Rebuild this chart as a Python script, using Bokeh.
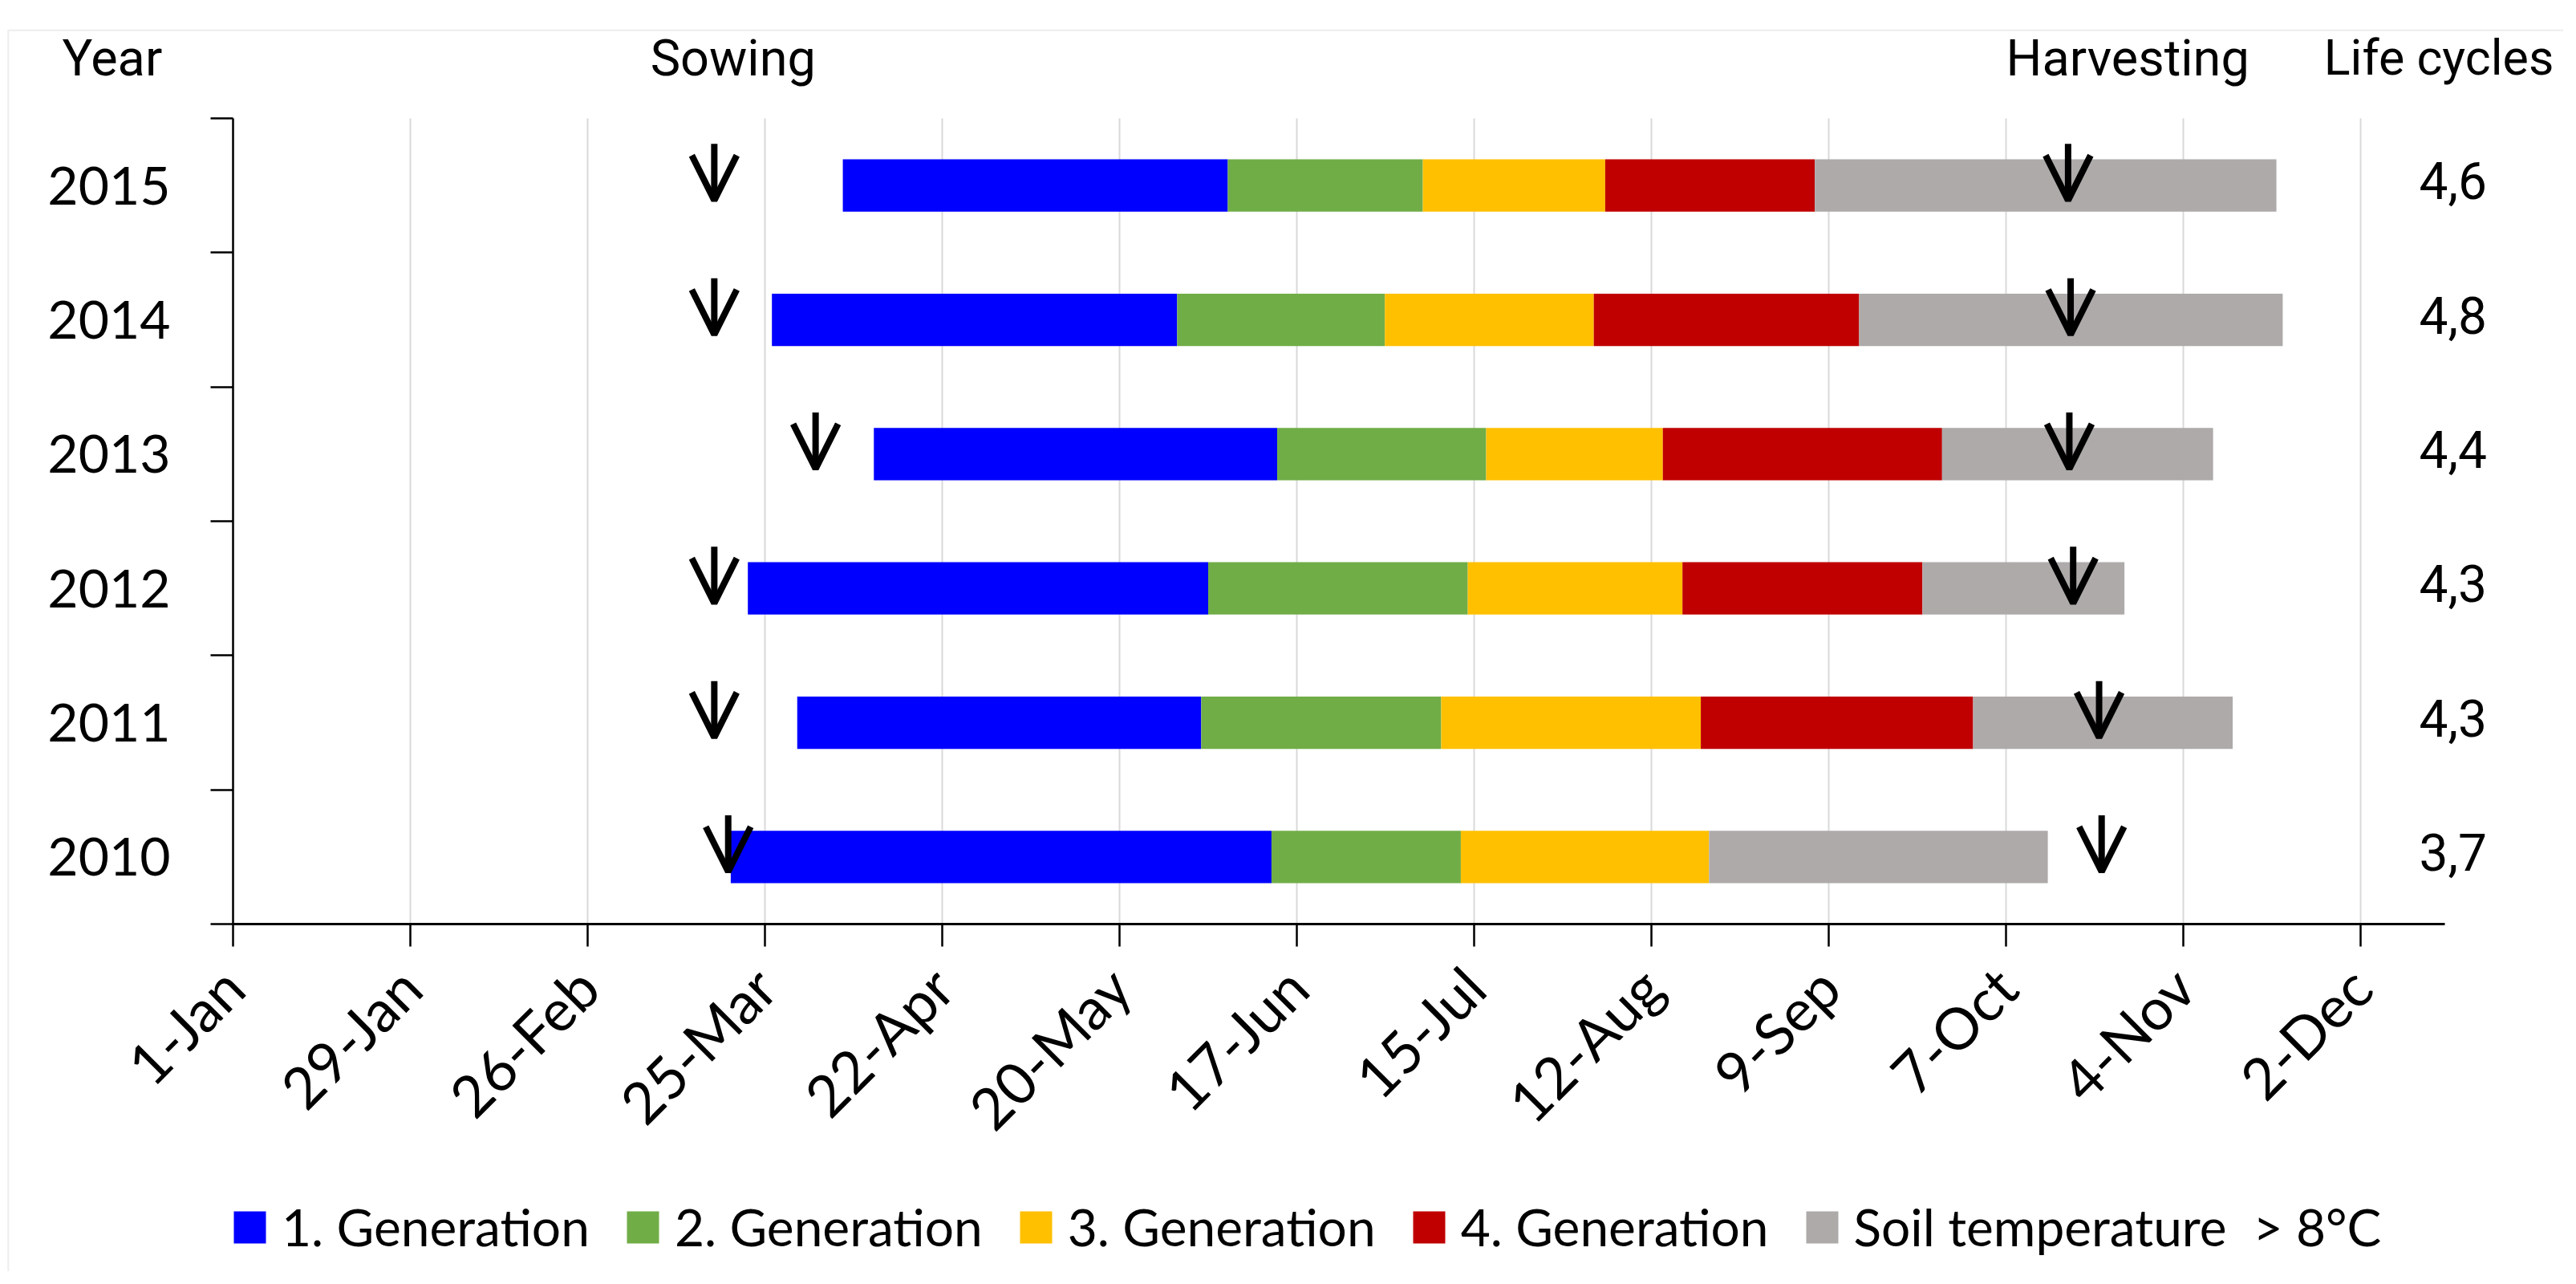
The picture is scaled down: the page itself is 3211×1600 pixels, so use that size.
import math
from bokeh.plotting import figure
from bokeh.models import (ColumnDataSource, FixedTicker, Range1d, Label, LabelSet,
                          Arrow, OpenHead, Legend, LegendItem, BoxAnnotation)
from bokeh.core.properties import value
from bokeh.embed import file_html
from bokeh.resources import INLINE

# ---- data (x in day units: 1-Jan = 1, ticks every 28 days) ----
years = ["2010", "2011", "2012", "2013", "2014", "2015"]
start = [79.6, 90.1, 82.3, 102.2, 86.1, 97.3]
gen1 = [85.4, 63.8, 72.7, 63.7, 64.0, 60.8]
gen2 = [29.9, 37.9, 41.0, 33.0, 32.8, 30.8]
gen3 = [39.2, 41.0, 33.9, 27.9, 33.0, 28.8]
gen4 = [0.0, 43.0, 37.9, 44.1, 41.9, 33.1]
soil = [53.5, 41.0, 31.9, 42.8, 66.9, 72.9]
sowing = [79.2, 77.0, 77.0, 93.0, 77.0, 77.0]
harvest = [296.1, 295.7, 291.6, 291.0, 291.2, 290.8]
life_cycles = ["3,7", "4,3", "4,3", "4,4", "4,8", "4,6"]

tick_days = [1, 29, 57, 85, 113, 141, 169, 197, 225, 253, 281, 309, 337]
tick_labels = ["1-Jan", "29-Jan", "26-Feb", "25-Mar", "22-Apr", "20-May", "17-Jun",
               "15-Jul", "12-Aug", "9-Sep", "7-Oct", "4-Nov", "2-Dec"]

series_names = ["1. Generation", "2. Generation", "3. Generation", "4. Generation",
                "Soil temperature  > 8°C"]
series_colors = ["#0000FF", "#70AD47", "#FFC000", "#C00000", "#AEAAAA"]

headers = ["Year", "Sowing", "Harvesting", "Life cycles"]

CAL = "Lato"
NARROW = "Roboto"

X_MIN, X_MAX = 1, 350.3      # extent of the value axis
Y_MIN, Y_MAX = 0, 6          # extent of the category axis

rows = [i + 0.5 for i in range(len(years))]

W, H = 3195, 1584
p = figure(width=W, height=H,
           x_range=Range1d(-35.74, 369.05), y_range=Range1d(-2.588, 6.879),
           output_backend="svg", toolbar_location=None,
           min_border_left=0, min_border_right=0, min_border_top=0, min_border_bottom=0)
p.outline_line_color = None
p.background_fill_color = "white"
p.border_fill_color = "white"

# chart-area border (Excel frame)
p.add_layout(BoxAnnotation(left=-34.5, right=1000, top=6.657, bottom=-20,
                           fill_color=None, fill_alpha=0,
                           line_color="#c4c4c4", line_width=2))

# vertical gridlines
p.segment(x0=tick_days, x1=tick_days, y0=[Y_MIN] * len(tick_days), y1=[Y_MAX] * len(tick_days),
          line_color="#d9d9d9", line_width=2)
p.xgrid.visible = False
p.ygrid.visible = False

# bars
series = [gen1, gen2, gen3, gen4, soil]
renderers = []
left = list(start)
for vals, name, col in zip(series, series_names, series_colors):
    right = [l + v for l, v in zip(left, vals)]
    src = ColumnDataSource(dict(y=rows, left=left, right=right))
    r = p.hbar(y="y", left="left", right="right", height=0.39, source=src,
               fill_color=col, line_color=None)
    renderers.append(r)
    left = right

# axes
xa = p.xaxis[0]
xa.fixed_location = Y_MIN
xa.bounds = (X_MIN, X_MAX)
xa.ticker = FixedTicker(ticks=tick_days)
xa.major_label_overrides = {d: t for d, t in zip(tick_days, tick_labels)}
xa.major_label_orientation = math.pi / 4
xa.major_tick_in = 0
xa.major_tick_out = 28
xa.minor_tick_line_color = None
xa.axis_line_width = 3
xa.axis_line_color = "black"
xa.major_tick_line_width = 2.5
xa.major_tick_line_color = "black"
xa.major_label_text_font = CAL
xa.major_label_text_font_size = "72px"
xa.major_label_text_color = "black"
xa.major_label_standoff = 38

ya = p.yaxis[0]
ya.fixed_location = X_MIN
ya.bounds = (Y_MIN, Y_MAX)
ya.ticker = FixedTicker(ticks=rows, minor_ticks=list(range(Y_MIN, Y_MAX + 1)))
ya.major_label_overrides = {r: y for r, y in zip(rows, years)}
ya.major_tick_in = 0
ya.major_tick_out = 0
ya.minor_tick_in = 0
ya.minor_tick_out = 28
ya.minor_tick_line_width = 2.5
ya.minor_tick_line_color = "black"
ya.axis_line_width = 2.5
ya.axis_line_color = "black"
ya.major_label_text_font = CAL
ya.major_label_text_font_size = "66px"
ya.major_label_text_color = "black"
ya.major_label_standoff = 50

# arrows (sowing and harvesting)
arr_src = ColumnDataSource(dict(
    x=sowing + harvest,
    y0=[r + 0.31 for r in rows] * 2,
    y1=[r - 0.11 for r in rows] * 2,
))
p.add_layout(Arrow(end=OpenHead(size=56, line_width=8, line_color="black"),
                   x_start="x", y_start="y0", x_end="x", y_end="y1",
                   source=arr_src, line_width=8, line_color="black"))

# life cycle values
lc_src = ColumnDataSource(dict(y=rows, t=life_cycles))
p.add_layout(LabelSet(x=351.6, y="y", text="t", source=lc_src, text_align="center",
                      text_baseline="middle", text_font=value(NARROW),
                      text_font_size=value("64px"), text_color="black", y_offset=6))

# header texts
header_x = [-26, 66.9, 281.0, 331.2]
header_size = ["63px", "63px", "63px", "61px"]
for txt, xpos, fs in zip(headers, header_x, header_size):
    p.add_layout(Label(x=xpos, y=6.45, text=txt, text_font=NARROW, text_font_size=fs,
                       text_align="left", text_baseline="alphabetic", text_color="black"))

legend = Legend(items=[LegendItem(label=n, renderers=[r]) for n, r in zip(series_names, renderers)],
                location=(286, 17), orientation="horizontal",
                glyph_width=50, glyph_height=50, label_standoff=15, spacing=41,
                padding=0, margin=0, border_line_color=None, background_fill_alpha=0,
                label_text_font=CAL, label_text_font_size="64px", label_text_color="black")
p.add_layout(legend)

open("out.html", "w").write(file_html(p, INLINE))
